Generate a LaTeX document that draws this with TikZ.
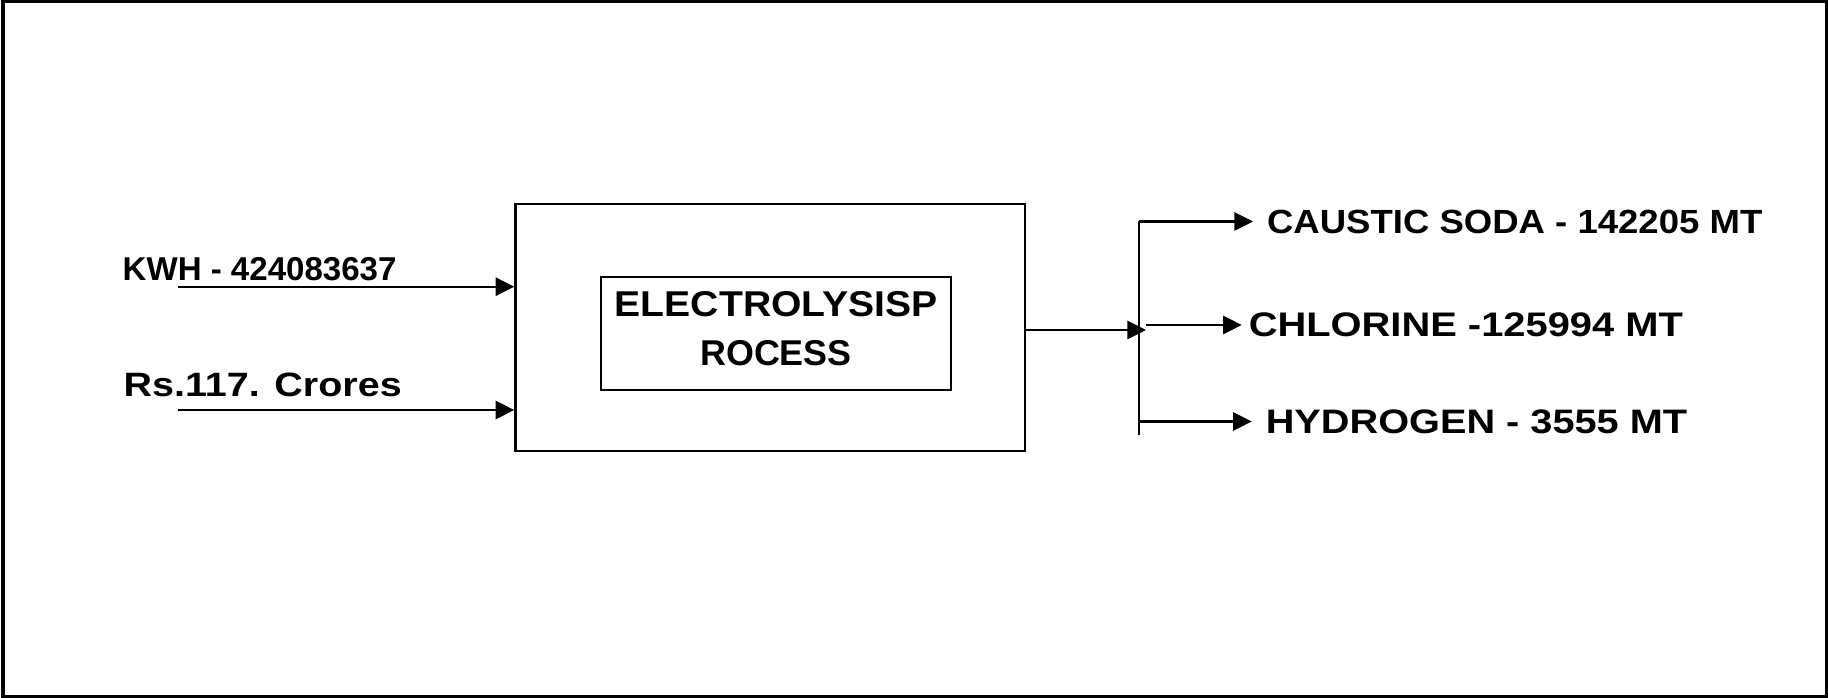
\documentclass[tikz,border=0pt]{standalone}
\usepackage{fontspec}
\setmainfont{Liberation Sans}
\newfontfamily\widesans[FakeStretch=1.17]{Liberation Sans}
\newfontfamily\midsans[FakeStretch=1.09]{Liberation Sans}
\usepackage{tikz}
\usetikzlibrary{arrows.meta}
\usetikzlibrary{positioning}

\tikzset{
	procbox/.style={draw,line width=0.8pt,minimum width=5.09cm,minimum height=2.47cm},
	innerbox/.style={draw,line width=0.6pt,minimum width=3.5cm,minimum height=1.13cm},
	lbl/.style={inner sep=0pt,anchor=base west,font=\bfseries},
	prod/.style={inner ysep=0pt,inner xsep=3.8pt,anchor=west,font=\bfseries},
	flow/.style={line width=0.6pt,-{Triangle[length=5.3pt,width=5.2pt]}},
	bus/.style={line width=0.6pt}
}

\begin{document}
\begin{tikzpicture}[x=0.01cm,y=-0.01cm]
			\useasboundingbox (0,0) rectangle (1828,698);
			% frame
			\draw[line width=1.15pt] (3,0.5) rectangle (1826.5,697);
			
			% process boxes
			\node[procbox] (proc) at (770.25,327.5) {};
			\node[innerbox] (elec) at (776,333.5) {};
			\node[inner sep=0pt,align=center,font=\bfseries\fontsize{10.2}{13.85}\selectfont,yshift=1.3pt] (electxt) at (elec.center) {{\midsans ELECTROLYSISP}\\ROCESS};
			
			% inputs
			\node[lbl,font=\bfseries\fontsize{9.4}{11}\selectfont] (kwh) at (122,281) {KWH - 424083637};
			\node[lbl,font=\bfseries\widesans\fontsize{9.6}{11}\selectfont] (rs) at (123,397) {Rs.117. Crores};
			\coordinate (kwhin) at (178,286.7);
			\coordinate (rsin) at (178,410);
			\draw[flow] (kwhin) -- (proc.west |- kwhin);
			\draw[flow] (rsin) -- (proc.west |- rsin);
			
			% products
			\node[prod,font=\bfseries\midsans\fontsize{9.53}{11}\selectfont] (caustic) at (1253,221.5) {CAUSTIC SODA - 142205 MT};
			\node[prod,inner xsep=1.8pt,font=\bfseries\widesans\fontsize{9.69}{11}\selectfont] (chlorine) at (1241.7,325) {CHLORINE -125994 MT};
			\node[prod,font=\bfseries\widesans\fontsize{9.65}{11}\selectfont] (hydrogen) at (1251.7,421.5) {HYDROGEN - 3555 MT};
			
			% output and split
			\coordinate (split) at (1146,330);
			\coordinate (busbot) at (1139,435);
			\draw[flow] (proc.east |- split) -- (split);
			\draw[bus] (caustic.west -| busbot) -- (busbot);
			\draw[flow] (caustic.west -| busbot) -- (caustic.west);
			\draw[flow] (split |- chlorine.west) -- (chlorine.west);
			\draw[flow] (hydrogen.west -| busbot) -- (hydrogen.west);
\end{tikzpicture}
\end{document}
